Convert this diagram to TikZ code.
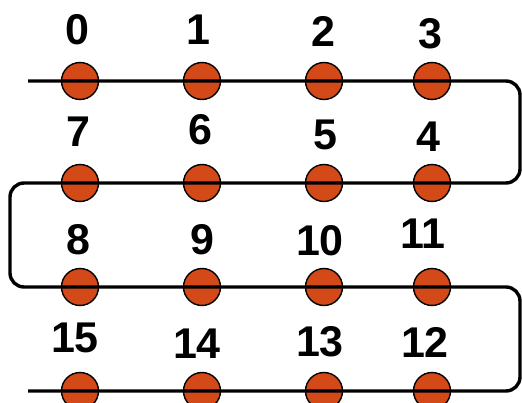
\documentclass[tikz,border=0pt]{standalone}
\usepackage{fontspec}
\setmainfont{Liberation Sans}
\usepackage{tikz}
\usetikzlibrary{positioning}
\definecolor{dotorange}{RGB}{211,74,24}

\begin{document}
\begin{tikzpicture}[
  x=1pt, y=-1pt,
  dot/.style={circle, draw=black, line width=1.4pt, fill=dotorange, minimum size=37pt, inner sep=0pt},
  num/.style={font=\fontsize{43}{43}\selectfont\bfseries, inner sep=0pt},
  wire/.style={line width=3.4pt, rounded corners=14pt}
]
\useasboundingbox (0,0) rectangle (522,403);

% dots, row by row
\node[dot] (d0) at (80,81) {};
\node[dot] (d1) at (202,81) {};
\node[dot] (d2) at (324,81) {};
\node[dot] (d3) at (432,81) {};

\node[dot] (d7) at (80,183) {};
\node[dot] (d6) at (202,183) {};
\node[dot] (d5) at (324,183) {};
\node[dot] (d4) at (432,183) {};

\node[dot] (d8) at (80,287) {};
\node[dot] (d9) at (202,287) {};
\node[dot] (d10) at (324,287) {};
\node[dot] (d11) at (432,287) {};

\node[dot] (d15) at (80,391) {};
\node[dot] (d14) at (202,391) {};
\node[dot] (d13) at (324,391) {};
\node[dot] (d12) at (432,391) {};

% numbers
\node[num] (n0) at (77,30) {0};
\node[num] (n1) at (198,30) {1};
\node[num] (n2) at (323,31) {2};
\node[num] (n3) at (430,34) {3};

\node[num] (n7) at (78,132) {7};
\node[num] (n6) at (200,130) {6};
\node[num] (n5) at (325,135) {5};
\node[num] (n4) at (428,137) {4};

\node[num] (n8) at (78,240) {8};
\node[num] (n9) at (202,240) {9};
\node[num] (n10) at (320,241) {10};
\node[num] (n11) at (423,234) {11};

\node[num] (n15) at (75,338) {15};
\node[num] (n14) at (197,344) {14};
\node[num] (n13) at (320,342) {13};
\node[num] (n12) at (425,342) {12};

% snake line
\coordinate (wstart) at (28,81);
\coordinate (wend) at (28,391);
\coordinate (rside) at (520,0);
\coordinate (lside) at (10,0);

\draw[wire] (wstart) -- (d3.center -| rside) -- (d4.center -| rside)
  -- (d7.center -| lside) -- (d8.center -| lside)
  -- (d11.center -| rside) -- (d12.center -| rside) -- (wend);

\end{tikzpicture}
\end{document}
